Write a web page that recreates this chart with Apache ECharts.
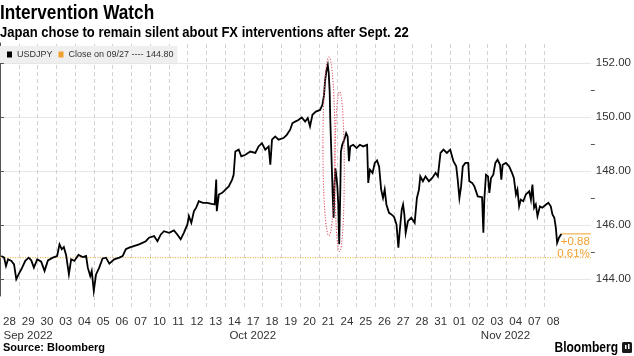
<!DOCTYPE html>
<html><head><meta charset="utf-8">
<script src="https://cdn.jsdelivr.net/npm/echarts@6.0.0/dist/echarts.min.js"></script>
<style>html,body{margin:0;padding:0;background:#fff}#c{width:634px;height:356px}</style>
</head><body><div id="c"></div>
<script>
// ---- data ----
const dayLabels = ['28','29','30','03','04','05','06','07','10','11','12','13','14','17','18','19','20','21','24','25','26','27','28','31','01','02','03','04','07','08'];
const monthLabels = ['Sep 2022','Sep 2022','Sep 2022',
 'Oct 2022','Oct 2022','Oct 2022','Oct 2022','Oct 2022','Oct 2022','Oct 2022','Oct 2022','Oct 2022','Oct 2022','Oct 2022','Oct 2022','Oct 2022','Oct 2022','Oct 2022','Oct 2022','Oct 2022','Oct 2022','Oct 2022','Oct 2022','Oct 2022',
 'Nov 2022','Nov 2022','Nov 2022','Nov 2022','Nov 2022','Nov 2022'];
// time in trading-day units (day i spans [i, i+1])
const times = [0.07,0.22,0.32,0.43,0.61,0.75,0.87,0.99,1.14,1.35,1.53,1.67,1.81,1.99,2.20,2.38,2.56,2.82,3.05,3.18,3.30,3.41,3.53,3.68,3.80,3.97,4.19,4.42,4.60,4.69,4.82,4.90,5.01,5.13,5.30,5.48,5.66,5.84,6.10,6.37,6.55,6.72,6.90,
 7.43,7.79,7.96,8.23,8.41,8.59,8.76,9.03,9.29,9.47,9.65,9.82,10.01,10.09,10.22,10.36,10.48,10.62,10.71,10.84,11.07,11.30,11.47,11.55,11.58,11.69,11.87,12.04,12.22,12.40,12.48,12.57,12.75,12.89,13.11,13.37,13.64,13.81,
 13.99,14.17,14.35,14.44,14.53,14.70,14.88,15.14,15.32,15.50,15.62,15.77,15.94,16.12,16.30,16.44,16.56,16.69,16.87,17.10,17.22,17.31,17.36,17.43,17.51,17.56,17.61,17.64,17.68,17.72,17.77,17.82,17.86,17.91,17.96,18.02,18.07,18.12,18.18,18.21,18.28,18.39,18.49,18.57,18.64,18.71,18.87,19.05,19.22,19.40,
 19.49,19.61,19.67,19.76,19.90,20.02,20.14,20.25,20.36,20.46,20.55,20.64,20.78,20.91,21.05,21.18,21.28,21.35,21.46,21.53,21.60,21.67,21.79,21.97,22.15,22.27,22.38,22.45,22.59,22.73,22.91,23.09,23.27,23.39,23.53,23.69,23.87,24.05,24.15,24.22,24.37,24.45,24.54,24.63,24.72,24.86,25.01,25.07,25.22,25.34,25.52,
 25.61,25.75,25.82,25.87,25.96,26.07,26.14,26.23,26.35,26.46,26.58,26.71,26.78,26.85,27.03,27.20,27.35,27.45,27.56,27.64,27.73,27.82,27.95,28.09,28.27,28.36,28.44,28.53,28.62,28.71,28.84,28.97,29.12,29.29,29.42,29.51,29.61,29.69,29.76,29.86,29.93,29.99];
const prices = [144.86,144.80,144.49,144.74,144.68,144.55,144.00,144.18,144.37,144.68,144.80,144.70,144.43,144.74,144.65,144.31,144.70,144.80,144.86,145.29,145.11,145.19,144.90,144.18,144.74,144.68,144.90,144.82,144.86,144.43,144.12,144.31,143.57,144.18,144.43,144.77,144.80,144.58,144.74,144.80,144.86,145.11,145.17,
 145.29,145.41,145.54,145.60,145.41,145.66,145.78,145.72,145.81,145.66,145.48,145.72,146.03,146.34,146.09,146.52,146.65,146.89,146.95,146.83,146.83,146.79,146.77,147.69,146.52,147.14,147.20,147.32,147.44,147.69,147.87,148.73,148.80,148.55,148.61,148.73,148.68,148.92,
 149.04,148.80,148.92,148.24,149.17,149.29,149.17,149.23,149.35,149.54,149.78,149.84,149.90,149.99,149.84,149.97,149.66,150.09,150.21,150.27,150.46,150.83,151.32,151.69,151.93,151.63,150.95,149.97,149.10,148.24,147.14,146.28,147.38,148.12,147.87,147.44,146.77,145.30,147.38,148.73,148.98,149.17,149.41,149.29,148.37,148.92,148.98,148.86,148.98,148.92,
 148.92,148.98,147.57,148.06,147.94,148.31,148.40,148.18,147.32,147.01,147.32,146.77,146.46,146.40,146.31,146.03,145.17,145.78,146.58,146.77,146.40,145.72,146.15,146.28,146.09,147.01,147.32,147.81,147.63,147.81,147.63,147.75,147.94,147.81,148.68,148.80,148.68,148.80,148.73,148.37,148.18,147.69,147.01,147.44,148.18,148.31,148.31,147.63,147.57,147.44,147.07,
 147.14,147.04,145.72,146.95,147.87,147.81,147.20,147.75,147.87,148.31,148.43,148.24,147.69,148.24,148.31,148.18,147.94,147.75,147.14,147.32,146.70,146.95,146.89,147.14,147.26,146.95,147.51,146.65,146.77,146.34,146.70,146.65,146.74,146.83,146.70,146.40,146.28,145.91,145.35,145.54,145.62,145.68];
const seriesName = 'USDJPY';
const closeDate = '09/27';
const closeValue = 144.80;
const yMajorTicks = [144,146,148,150,152];
const yMinorTicks = [145,147,149,151];
// annotation ellipses (data coords: centre time, centre price, half-width in days, half-height in price)
const highlightEllipses = [[17.57,148.92,0.32,3.31],[18.14,147.99,0.25,2.96]];

// ---- chart ----
const ORANGE = '#f0a030';
const SANS = '"Liberation Sans",Arial,sans-serif';
const xMax = 31.56, yMin = 143.38, yMax = 152.75;
const lastT = times[times.length-1], lastV = prices[prices.length-1];
const diff = lastV - closeValue, pct = diff / closeValue * 100;
const closeName = 'Close on ' + closeDate + ' ---- ' + closeValue.toFixed(2);

const chart = echarts.init(document.getElementById('c'));
chart.setOption({
  animation: false,
  grid: [{left:-1.4, right:42, top:43, bottom:60}, {left:-1.4, width:564, top:44, bottom:46}],
  xAxis: [
    {gridIndex:0, type:'value', min:0, max:xMax, show:false},
    {gridIndex:1, type:'category', data:dayLabels, boundaryGap:true,
     axisLine:{show:false}, axisTick:{show:false},
     axisLabel:{interval:0, fontSize:11.5, color:'#333', margin:6, fontFamily:SANS},
     splitLine:{show:true, interval:0, showMinLine:false, showMaxLine:false, lineStyle:{color:'#d2d2d2', type:[4,3], width:1}}}
  ],
  yAxis: [
    {gridIndex:0, type:'value', position:'right', min:yMin, max:yMax,
     axisLine:{show:true, lineStyle:{color:'#555'}},
     axisTick:{show:true, customValues:yMajorTicks, length:4, lineStyle:{color:'#555'}},
     axisLabel:{customValues:yMajorTicks, formatter:v=>Number(v).toFixed(2), fontSize:11.5, color:'#333', margin:5, fontFamily:SANS},
     splitLine:{show:true, lineStyle:{color:'#e6e6e6'}}},
    {gridIndex:0, type:'value', position:'right', min:yMin, max:yMax,
     axisLine:{show:false},
     axisTick:{show:true, customValues:yMinorTicks, length:4, lineStyle:{color:'#555'}},
     axisLabel:{show:false}, splitLine:{show:false}},
    {gridIndex:1, type:'value', show:false, min:0, max:1}
  ],
  legend: {left:0, top:46, padding:[4,4,4,7], backgroundColor:'#efefef', itemGap:6, itemWidth:5, itemHeight:6, icon:'rect',
    selectedMode:false, textStyle:{fontSize:9, color:'#333', fontFamily:SANS}, data:[seriesName, closeName]},
  series: [
    {name:closeName, type:'line', xAxisIndex:0, yAxisIndex:0, symbol:'none', silent:true,
     data:[[0,closeValue],[xMax,closeValue]], itemStyle:{color:ORANGE}, lineStyle:{color:ORANGE, width:1, type:[1,1.5]}, z:2},
    {name:'last', type:'line', xAxisIndex:0, yAxisIndex:0, symbol:'none', silent:true,
     data:[[lastT,lastV],[xMax,lastV]], lineStyle:{color:ORANGE, width:1}, z:2},
    {name:seriesName, type:'line', xAxisIndex:0, yAxisIndex:0, symbol:'none', showSymbol:false,
     data:times.map((t,i)=>[t,prices[i]]), itemStyle:{color:'#000'}, lineStyle:{color:'#000', width:1.8, join:'miter'}, z:3},
    {name:'ellipses', type:'custom', xAxisIndex:0, yAxisIndex:0, silent:true, z:4, data:highlightEllipses,
     renderItem:(params, api)=>{
       const c = api.coord([api.value(0), api.value(1)]);
       const s = api.size([api.value(2), api.value(3)]);
       return {type:'ellipse', shape:{cx:c[0], cy:c[1], rx:s[0], ry:s[1]},
         style:{fill:null, stroke:'#e0566b', lineWidth:1.1, lineDash:[1.2,1.6]}};
     }}
  ]
});

// text annotations anchored through the axes
const lastPx = chart.convertToPixel({xAxisIndex:0, yAxisIndex:0}, [xMax, lastV]);
const monthText = [];
const seen = {};
monthLabels.forEach((m,i)=>{ if(!seen[m]) seen[m]={a:i,b:i}; else seen[m].b=i; });
Object.keys(seen).forEach(m=>{
  const mid = (seen[m].a + seen[m].b)/2 + 0.5;
  const px = chart.convertToPixel({xAxisIndex:0}, mid);
  monthText.push({type:'text', silent:true, style:{text:m, x:px, y:336, textAlign:'center', textVerticalAlign:'middle', font:'11.5px '+SANS, fill:'#333'}});
});
chart.setOption({graphic: [
  {type:'text', silent:true, x:0, y:13, scaleX:0.86, style:{text:'Intervention Watch', x:0, y:0, textVerticalAlign:'middle', font:'bold 20px '+SANS, fill:'#000'}},
  {type:'text', silent:true, x:0, y:33, scaleX:0.93, style:{text:'Japan chose to remain silent about FX interventions after Sept. 22', x:0, y:0, textVerticalAlign:'middle', font:'bold 14px '+SANS, fill:'#000'}},
  {type:'text', silent:true, style:{text:(diff>=0?'+':'')+diff.toFixed(2)+'\n'+pct.toFixed(2)+'%', x:lastPx[0]-1, y:lastPx[1]+1.5, textAlign:'right', textVerticalAlign:'top', lineHeight:12.5, font:'11.5px '+SANS, fill:ORANGE}},
  {type:'text', silent:true, style:{text:'Source: Bloomberg', x:3, y:348, textVerticalAlign:'middle', font:'bold 11px '+SANS, fill:'#000'}},
  {type:'text', silent:true, x:618, y:348, scaleX:0.86, style:{text:'Bloomberg', x:0, y:0, textAlign:'right', textVerticalAlign:'middle', font:'bold 14px '+SANS, fill:'#000'}},
  {type:'rect', silent:true, shape:{x:622, y:342, width:10, height:11, r:1.5}, style:{fill:'#1a1a1a'}},
  {type:'rect', silent:true, shape:{x:625, y:345, width:1.5, height:4}, style:{fill:'#fff'}},
  {type:'rect', silent:true, shape:{x:628, y:344, width:1.5, height:5}, style:{fill:'#fff'}}
].concat(monthText)});
</script></body></html>
